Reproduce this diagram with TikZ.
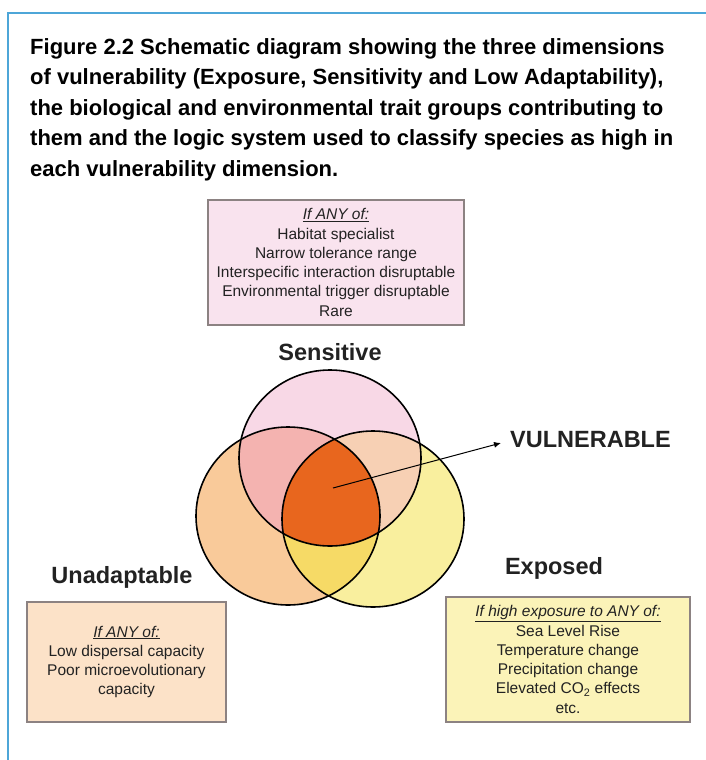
\documentclass[tikz,border=0pt]{standalone}
\usepackage{fontspec}
\setmainfont{Liberation Sans}
\usetikzlibrary{arrows.meta}

\definecolor{frameblue}{HTML}{4DA6D8}
\definecolor{senspink}{HTML}{F8D8E6}
\definecolor{unadpeach}{HTML}{F9CA9A}
\definecolor{expyellow}{HTML}{F9EF9E}
\definecolor{sensunad}{HTML}{F4B3B0}
\definecolor{sensexp}{HTML}{F7D0B4}
\definecolor{unadexp}{HTML}{F6DA66}
\definecolor{coreorange}{HTML}{E8661E}
\definecolor{pinkbox}{HTML}{F9E3EE}
\definecolor{peachbox}{HTML}{FCE2C8}
\definecolor{yellowbox}{HTML}{FBF3B8}
\definecolor{boxgray}{HTML}{8C8282}
\definecolor{inktext}{HTML}{222222}

\tikzset{
	listbox/.style={draw=boxgray, line width=1.3pt, align=center, inner sep=0pt,
		text=inktext, font=\fontsize{15.5}{19.3}\selectfont},
	biglabel/.style={font=\fontsize{23.5}{26}\selectfont\bfseries, text=inktext, inner sep=0pt},
	ring/.style={draw=black, line width=1.6pt}
}

\begin{document}
\begin{tikzpicture}[x=1pt, y=-1pt]
	\useasboundingbox (0,0) rectangle (706,760);

	% frame
	\draw[frameblue, line width=1.5pt] (706,13) -- (8,13) -- (8,760);

	\node[anchor=north west, align=left, inner sep=0pt, text=black,
		font=\fontsize{22}{30.5}\selectfont\bfseries] (title) at (30,38)
		{Figure 2.2 Schematic diagram showing the three dimensions\\
		 of vulnerability (Exposure, Sensitivity and Low Adaptability),\\
		 the biological and environmental trait groups contributing to\\
		 them and the logic system used to classify species as high in\\
		 each vulnerability dimension.};

	% trait boxes
	\node[listbox, fill=pinkbox, minimum width=256, minimum height=125] (sensbox) at (336,262.5)
		{\underline{\textit{If ANY of:}}\\ Habitat specialist\\ Narrow tolerance range\\
		 Interspecific interaction disruptable\\ Environmental trigger disruptable\\ Rare};
	\node[listbox, fill=peachbox, minimum width=199, minimum height=120] (unadbox) at (126.5,662)
		{\underline{\textit{If ANY of:}}\\ Low dispersal capacity\\ Poor microevolutionary\\ capacity};
	\node[listbox, fill=yellowbox, minimum width=244, minimum height=125] (expbox) at (568,659.5)
		{\underline{\textit{If high exposure to ANY of:}}\\ Sea Level Rise\\ Temperature change\\
		 Precipitation change\\ Elevated CO\textsubscript{2} effects\\ etc.};

	% labels
	\node[biglabel] (sens) at (330,352) {Sensitive};
	\node[biglabel] (unad) at (122,577) {Unadaptable};
	\node[biglabel] (exp) at (554,568) {Exposed};
	\node[biglabel, anchor=west] (vuln) at (510,440) {VULNERABLE};

	% venn
	\fill[senspink] (330,458) ellipse [x radius=91, y radius=88];
	\fill[unadpeach] (288,516) ellipse [x radius=92, y radius=89];
	\fill[expyellow] (373,519) ellipse [x radius=91, y radius=88];
	\begin{scope}
		\clip (330,458) ellipse [x radius=91, y radius=88];
		\fill[sensunad] (288,516) ellipse [x radius=92, y radius=89];
		\fill[sensexp] (373,519) ellipse [x radius=91, y radius=88];
	\end{scope}
	\begin{scope}
		\clip (288,516) ellipse [x radius=92, y radius=89];
		\fill[unadexp] (373,519) ellipse [x radius=91, y radius=88];
		\clip (330,458) ellipse [x radius=91, y radius=88];
		\fill[coreorange] (373,519) ellipse [x radius=91, y radius=88];
	\end{scope}
	\draw[ring] (330,458) ellipse [x radius=91, y radius=88];
	\draw[ring] (288,516) ellipse [x radius=92, y radius=89];
	\draw[ring] (373,519) ellipse [x radius=91, y radius=88];

	\coordinate (core) at (333,488);
	\draw[line width=1pt, -{Latex[length=7pt, width=6pt]}] (core) -- ([xshift=-9pt,yshift=-3pt]vuln.west);
\end{tikzpicture}
\end{document}
